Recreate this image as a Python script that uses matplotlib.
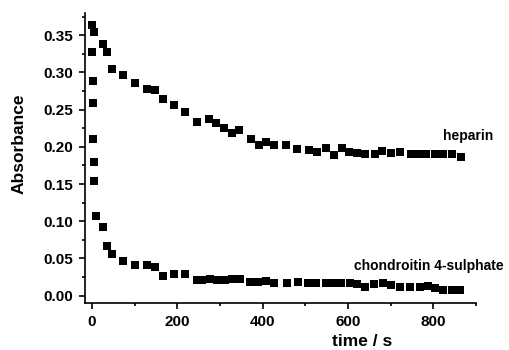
import numpy as np
import matplotlib
matplotlib.use('Agg')
import matplotlib.pyplot as plt
from matplotlib.ticker import MultipleLocator

plt.rcParams['font.family'] = ['Liberation Sans', 'DejaVu Sans']
plt.rcParams['font.weight'] = 'bold'

# heparin (time in s, absorbance)
hep_t = [1.5, 6, 25, 35, 48, 74, 102, 129, 147, 166, 192, 219, 247, 274, 291,
         310, 328, 346, 372, 391, 409, 427, 454, 481, 508, 528, 549, 567, 586,
         602, 622, 641, 663, 681, 700, 723, 747, 766, 784, 804, 823, 843, 864]
hep_a = [0.364, 0.354, 0.338, 0.328, 0.305, 0.297, 0.286, 0.278, 0.276, 0.264,
         0.256, 0.247, 0.234, 0.238, 0.232, 0.225, 0.219, 0.222, 0.210, 0.203,
         0.206, 0.203, 0.203, 0.197, 0.196, 0.193, 0.198, 0.189, 0.198, 0.193,
         0.192, 0.190, 0.190, 0.195, 0.192, 0.193, 0.191, 0.190, 0.190, 0.190,
         0.190, 0.190, 0.187]

# chondroitin 4-sulphate
cs_t = [1, 2, 2.5, 3, 4, 6, 9, 25, 35, 48, 74, 102, 129, 147, 166, 192, 219,
        247, 259, 277, 294, 311, 329, 347, 371, 390, 409, 427, 457, 482, 506,
        525, 549, 565, 584, 604, 622, 641, 661, 682, 702, 723, 745, 768, 788,
        805, 824, 843, 863]
cs_a = [0.328, 0.288, 0.259, 0.210, 0.179, 0.154, 0.107, 0.092, 0.067, 0.056,
        0.046, 0.041, 0.041, 0.038, 0.027, 0.029, 0.029, 0.021, 0.021, 0.023,
        0.021, 0.021, 0.022, 0.022, 0.019, 0.018, 0.020, 0.017, 0.017, 0.019,
        0.017, 0.017, 0.017, 0.017, 0.017, 0.017, 0.016, 0.012, 0.016, 0.017,
        0.014, 0.012, 0.012, 0.012, 0.013, 0.010, 0.008, 0.007, 0.007]

fig = plt.figure(figsize=(5.09, 3.5), dpi=100)
ax = fig.add_axes([0.167, 0.134, 0.768, 0.829])

ax.plot(hep_t, hep_a, 's', color='black', ms=5.5, mew=0)
ax.plot(cs_t, cs_a, 's', color='black', ms=5.5, mew=0)

ax.set_xlim(-16, 900)
ax.set_ylim(-0.01, 0.38)
ax.xaxis.set_major_locator(MultipleLocator(200))
ax.xaxis.set_minor_locator(MultipleLocator(100))
ax.yaxis.set_major_locator(MultipleLocator(0.05))
ax.yaxis.set_minor_locator(MultipleLocator(0.025))
ax.yaxis.set_major_formatter(plt.FormatStrFormatter('%.2f'))

for s in ['top', 'right']:
    ax.spines[s].set_visible(False)
for s in ['left', 'bottom']:
    ax.spines[s].set_linewidth(1.2)
ax.tick_params(which='major', direction='out', length=4.5, width=1.2,
               labelsize=11, pad=4)
ax.tick_params(which='minor', direction='out', length=2.5, width=1.2)

# axis titles placed in figure pixels
fig.text(19 / 509, 1 - 144 / 350, 'Absorbance', rotation=90, fontsize=12.5,
         fontweight='bold', ha='center', va='center')
fig.text(362 / 509, 1 - 342 / 350, 'time / s', fontsize=12.5,
         fontweight='bold', ha='center', va='center')

ax.text(882, 0.215, 'heparin', fontsize=10, fontweight='bold',
        ha='center', va='center')
ax.text(790, 0.040, 'chondroitin 4-sulphate', fontsize=10, fontweight='bold',
        ha='center', va='center', clip_on=False)

fig.savefig('out.png', dpi=100)
